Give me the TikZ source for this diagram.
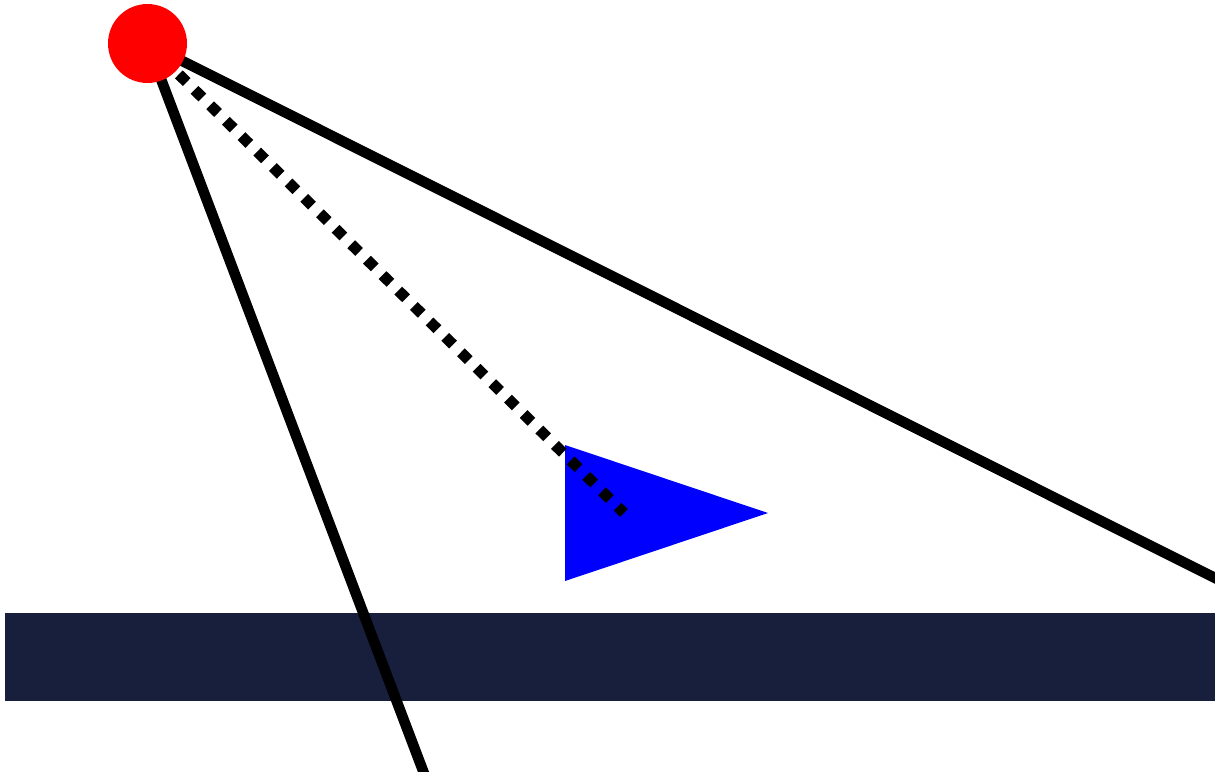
\documentclass[tikz,border=0pt]{standalone}
\definecolor{band}{RGB}{23,31,61}
\definecolor{pblue}{RGB}{0,0,255}
\definecolor{pred}{RGB}{255,0,0}
\begin{document}
\begin{tikzpicture}[x=1pt,y=-1pt,
  ray/.style={line width=10.5pt},
  dotray/.style={line width=11pt,dash pattern=on 11pt off 11pt},
  srcdot/.style={circle,fill=pred,minimum size=79pt,inner sep=0pt}]
\useasboundingbox (0,0) rectangle (1215,771);
\clip (0,0) rectangle (1215,771);
\fill[band] (5,613) rectangle (1215,701);
\fill[pblue] (565,445) -- (768,513) -- (565,581) -- cycle;
\coordinate (c) at (147.5,43.5);
\coordinate (eR) at (1220,580.5);
\coordinate (eB) at (425,776);
\coordinate (eD) at (624,513);
\draw[ray] (c) -- (eR);
\draw[ray] (c) -- (eB);
\draw[dotray] (c) -- (eD);
\node[srcdot] (src) at (c) {};
\end{tikzpicture}
\end{document}
